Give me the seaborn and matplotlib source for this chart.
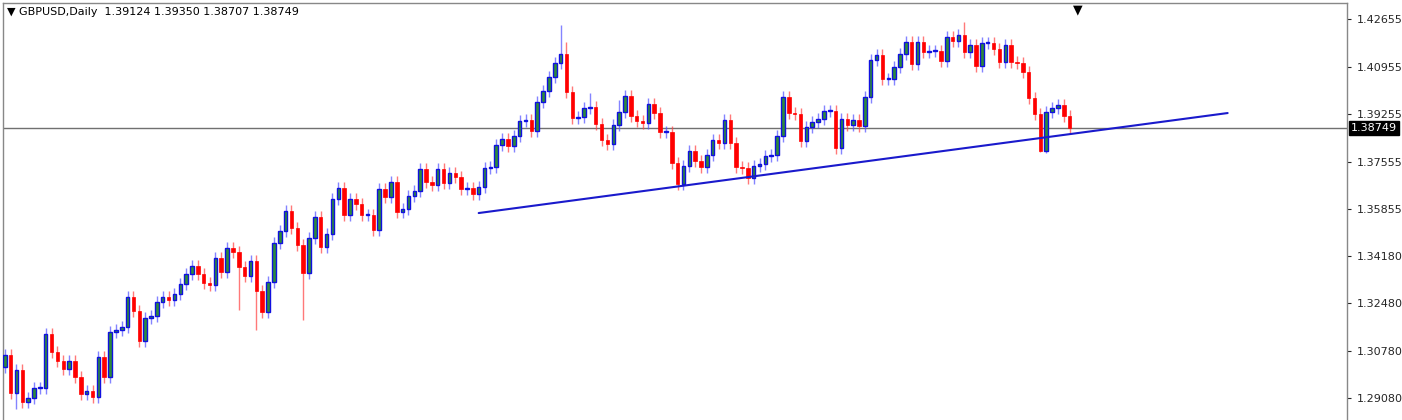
import numpy as np
import matplotlib
matplotlib.use("Agg")
import matplotlib.pyplot as plt
import seaborn as sns
import pandas as pd

first_open = 1.3020
closes = [1.3063,1.2927,1.3009,1.2894,1.2909,1.2945,1.2945,1.3138,1.3073,1.3041,
1.3012,1.3041,1.2984,1.2923,1.2934,1.2912,1.3055,1.2984,1.3145,1.3152,
1.3163,1.3270,1.3220,1.3113,1.3196,1.3203,1.3253,1.3270,1.3260,1.3282,
1.3317,1.3353,1.3382,1.3353,1.3321,1.3314,1.3410,1.3360,1.3446,1.3432,
1.3378,1.3346,1.3400,1.3292,1.3217,1.3324,1.3464,1.3507,1.3579,1.3518,
1.3457,1.3357,1.3482,1.3557,1.3450,1.3496,1.3622,1.3661,1.3564,1.3622,
1.3604,1.3564,1.3564,1.3511,1.3657,1.3629,1.3682,1.3575,1.3586,1.3632,
1.3650,1.3729,1.3682,1.3672,1.3729,1.3679,1.3715,1.3700,1.3657,1.3661,
1.3640,1.3665,1.3733,1.3736,1.3815,1.3836,1.3811,1.3847,1.3901,1.3904,
1.3865,1.3969,1.4008,1.4058,1.4109,1.4141,1.4005,1.3912,1.3915,1.3947,
1.3951,1.3890,1.3833,1.3818,1.3887,1.3933,1.3990,1.3919,1.3901,1.3894,
1.3962,1.3930,1.3861,1.3861,1.3750,1.3675,1.3740,1.3793,1.3758,1.3736,
1.3779,1.3833,1.3822,1.3904,1.3822,1.3736,1.3733,1.3697,1.3740,1.3747,
1.3776,1.3779,1.3847,1.3987,1.3930,1.3926,1.3829,1.3879,1.3897,1.3908,
1.3937,1.3937,1.3804,1.3908,1.3887,1.3904,1.3883,1.3987,1.4119,1.4137,
1.4051,1.4051,1.4094,1.4141,1.4183,1.4105,1.4183,1.4147,1.4151,1.4151,
1.4116,1.4201,1.4187,1.4209,1.4147,1.4172,1.4098,1.4180,1.4180,1.4159,
1.4112,1.4172,1.4112,1.4109,1.4076,1.3983,1.3926,1.3793,1.3933,1.3947,
1.3958,1.3919,1.3875]
wick = 0.0022
high_overrides = {95: 1.4244, 96: 1.4183, 164: 1.4255, 100: 1.4000, 105: 1.3975}
low_overrides = {2: 1.2870, 40: 1.3224, 43: 1.3153, 51: 1.3188, 177: 1.3790, 178: 1.3785}
trend_idx = [81, 209]
trend_price = [1.3571, 1.3929]
last_price = 1.38749
ytick_vals = [1.42655,1.40955,1.39255,1.37555,1.35855,1.34180,1.32480,1.30780,1.29080]

opens = [first_open] + closes[:-1]
n = len(closes)
df = pd.DataFrame({"i": np.arange(n), "o": opens, "c": closes})
df["hi"] = [high_overrides.get(k, max(o, c) + wick) for k, o, c in zip(df.i, df.o, df.c)]
df["lo"] = [low_overrides.get(k, min(o, c) - wick) for k, o, c in zip(df.i, df.o, df.c)]
df["up"] = df.c >= df.o

sns.set_style("white")
plt.rcParams['font.family'] = ['DejaVu Sans']
fig = plt.figure(figsize=(14.02, 4.2), dpi=100)
ax = fig.add_axes([3/1402, 0, 1344/1402, 417/420])

up = df[df.up]; dn = df[~df.up]
ax.vlines(up.i, up.lo, up.hi, color="#5050ff", lw=1, alpha=0.7, zorder=2)
ax.vlines(dn.i, dn.lo, dn.hi, color="#ff4040", lw=1, alpha=0.7, zorder=2)
ax.bar(up.i, (up.c - up.o).clip(lower=0.0002), bottom=up.o, width=0.6,
       color="#2e8b3a", edgecolor="#1010e0", lw=1, zorder=3)
ax.bar(dn.i, (dn.c - dn.o).clip(upper=-0.0002), bottom=dn.o, width=0.6,
       color="#ff0000", edgecolor="#ff0000", lw=0.5, zorder=3)

sns.lineplot(x=trend_idx, y=trend_price, ax=ax, color="#1a1acc", lw=1.5, zorder=4)
ax.axhline(last_price, color="#707070", lw=1, zorder=1)

ax.set_xlim(-0.3, 229.4)
ax.set_ylim(1.2830, 1.4323)
ax.set_xticks([])
ax.yaxis.tick_right()
ax.set_yticks(ytick_vals)
ax.set_yticklabels([f"{v:.5f}" for v in ytick_vals], fontsize=8)
ax.tick_params(axis="y", length=3, pad=4, direction="out", right=True)
for s in ax.spines.values():
    s.set_color("#888888"); s.set_linewidth(1)
ax.spines["bottom"].set_visible(False)

ax.text(1.003, last_price, f"{last_price:.5f}", transform=ax.get_yaxis_transform(),
        fontsize=8, color="white", va="center", ha="left",
        bbox=dict(boxstyle="square,pad=0.2", fc="black", ec="black"))
ax.text(0.003, 0.99, "\u25bc GBPUSD,Daily  1.39124 1.39350 1.38707 1.38749",
        transform=ax.transAxes, fontsize=8, va="top", ha="left", color="black")
ax.text((1078-3)/1344, 1.0, "\u25bc", transform=ax.transAxes, fontsize=9,
        va="top", ha="center", color="black")

fig.savefig("out.png", dpi=100, facecolor="white")
